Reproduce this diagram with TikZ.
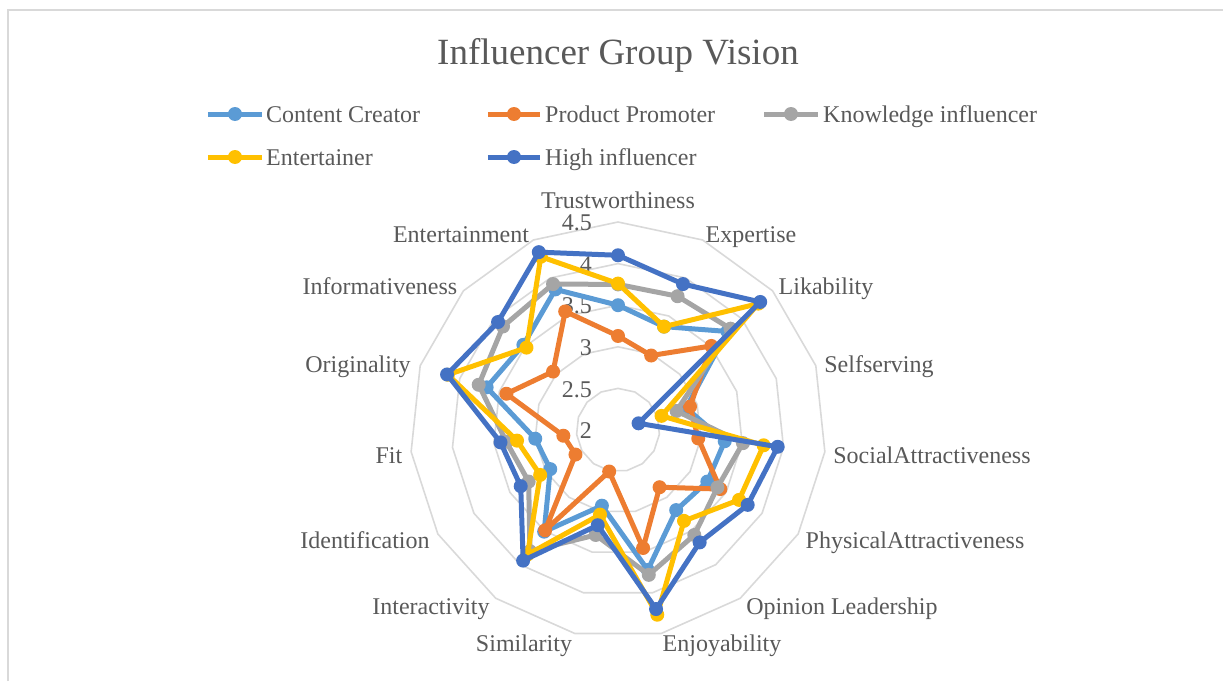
\documentclass[tikz,border=0pt]{standalone}
\usepackage{fontspec}
\setmainfont{Liberation Serif}
\definecolor{txt}{RGB}{89,89,89}
\definecolor{gridc}{RGB}{217,217,217}
\definecolor{ccc}{RGB}{91,155,213}
\definecolor{ppc}{RGB}{237,125,49}
\definecolor{knc}{RGB}{165,165,165}
\definecolor{enc}{RGB}{255,192,0}
\definecolor{hic}{RGB}{68,114,196}
\tikzset{
  ringline/.style={draw=gridc, line width=1.6pt},
  serline/.style={line width=5pt, line join=round},
  axlabel/.style={text=txt, font=\fontsize{24}{28}\selectfont, inner sep=0pt, anchor=base},
  vallabel/.style={text=txt, font=\fontsize{24}{28}\selectfont, inner sep=0pt, anchor=east},
  legtext/.style={text=txt, font=\fontsize{24}{28}\selectfont, inner sep=0pt, anchor=base west},
  legline/.style={line width=5pt},
}
\newcommand\radarseries[3]{%
  \foreach \v [count=\i from 0] in {#3} {\coordinate (#1\i) at ({90-24*\i}:{(\v-2)*83.2});}
  \draw[serline,#2] (#10) \foreach \i in {1,...,14}{ -- (#1\i)} -- cycle;
  \foreach \i in {0,...,14} {\fill[#2] (#1\i) circle[radius=7];}
}
\begin{document}
\begin{tikzpicture}[x=1pt,y=1pt]
\useasboundingbox (-618,-251) rectangle (605,430);
% chart border
\coordinate (bTL) at (-610,420);
\coordinate (bTR) at (605,420);
\coordinate (bBL) at (-610,-251);
\draw[gridc, line width=1.6pt] (bBL) -- (bTL) -- (bTR);
% title
\node[text=txt, font=\fontsize{37}{42}\selectfont, inner sep=0pt, anchor=base] (title) at (0,365) {Influencer Group Vision};
% legend
\coordinate (l1a) at (-410,316); \coordinate (l1b) at (-356,316); \coordinate (l1m) at (-383,316);
\draw[legline,ccc] (l1a) -- (l1b); \fill[ccc] (l1m) circle[radius=7];
\node[legtext] (lg1) at (-352,308) {Content Creator};
\coordinate (l2a) at (-130,316); \coordinate (l2b) at (-78,316); \coordinate (l2m) at (-104,316);
\draw[legline,ppc] (l2a) -- (l2b); \fill[ppc] (l2m) circle[radius=7];
\node[legtext] (lg2) at (-73,308) {Product Promoter};
\coordinate (l3a) at (146,316); \coordinate (l3b) at (200,316); \coordinate (l3m) at (173,316);
\draw[legline,knc] (l3a) -- (l3b); \fill[knc] (l3m) circle[radius=7];
\node[legtext] (lg3) at (205,308) {Knowledge influencer};
\coordinate (l4a) at (-410,273); \coordinate (l4b) at (-356,273); \coordinate (l4m) at (-383,273);
\draw[legline,enc] (l4a) -- (l4b); \fill[enc] (l4m) circle[radius=7];
\node[legtext] (lg4) at (-352,265) {Entertainer};
\coordinate (l5a) at (-130,273); \coordinate (l5b) at (-78,273); \coordinate (l5m) at (-104,273);
\draw[legline,hic] (l5a) -- (l5b); \fill[hic] (l5m) circle[radius=7];
\node[legtext] (lg5) at (-73,265) {High influencer};
% rings
\foreach \r in {0.5,1,1.5,2,2.5} {
  \draw[ringline] ({90}:{\r*83.2}) \foreach \k in {1,...,14}{ -- ({90-24*\k}:{\r*83.2})} -- cycle;
}
% value labels
\foreach \v/\t in {0/2,0.5/2.5,1/3,1.5/3.5,2/4,2.5/4.5} {
  \node[vallabel] at (-26,{\v*83.2-1}) {\t};
}
% axis labels
\node[axlabel] (a0) at (0,222) {Trustworthiness};
\node[axlabel] (a1) at (133,188) {Expertise};
\node[axlabel] (a2) at (208,136) {Likability};
\node[axlabel] (a3) at (261,58) {Selfserving};
\node[axlabel] (a4) at (314,-33) {SocialAttractiveness};
\node[axlabel] (a5) at (297,-118) {PhysicalAttractiveness};
\node[axlabel] (a6) at (224,-184) {Opinion Leadership};
\node[axlabel] (a7) at (104,-221) {Enjoyability};
\node[axlabel] (a8) at (-94,-221) {Similarity};
\node[axlabel] (a9) at (-187,-184) {Interactivity};
\node[axlabel] (a10) at (-253,-118) {Identification};
\node[axlabel] (a11) at (-229,-33) {Fit};
\node[axlabel] (a12) at (-260,58) {Originality};
\node[axlabel] (a13) at (-238,136) {Informativeness};
\node[axlabel] (a14) at (-157,188) {Entertainment};
% data series
\radarseries{cc}{ccc}{3.50,3.36,3.77,2.86,3.29,3.24,3.19,3.72,2.93,3.51,2.94,3.00,3.66,3.53,3.85}
\radarseries{pp}{ppc}{3.13,2.98,3.51,2.91,2.97,3.42,2.85,3.45,2.51,3.49,2.59,2.66,3.41,3.05,3.56}
\radarseries{kn}{knc}{3.75,3.76,3.82,2.74,3.51,3.38,3.56,3.78,3.29,3.80,3.24,3.35,3.76,3.86,3.92}
\radarseries{en}{enc}{3.76,3.36,4.27,2.55,3.76,3.68,3.35,4.27,3.04,3.85,3.08,3.22,4.15,3.48,4.28}
\radarseries{hi}{hic}{4.10,3.92,4.30,2.26,3.93,3.80,3.67,4.20,3.17,3.94,3.35,3.42,4.16,3.94,4.34}
\end{tikzpicture}
\end{document}
